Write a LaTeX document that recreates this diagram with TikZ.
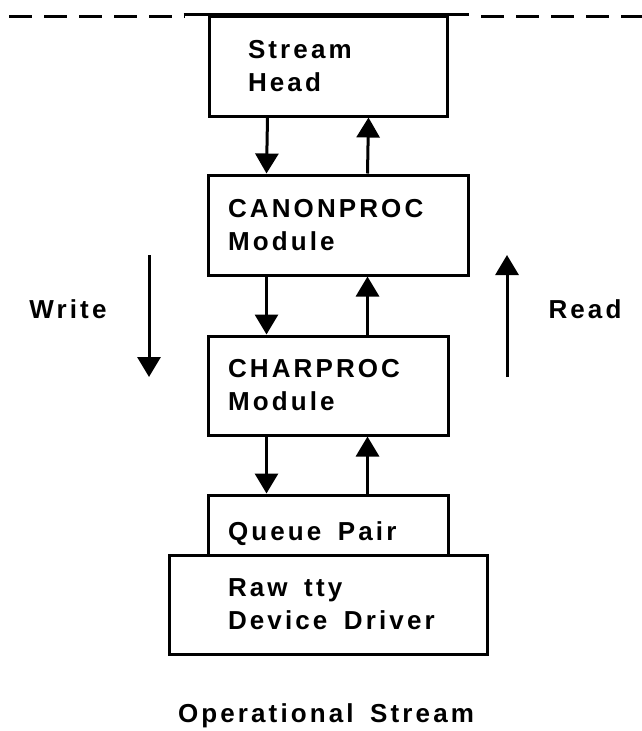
\documentclass[tikz,border=0pt]{standalone}
\usepackage{fontspec}
\usepackage{tikz}
\usetikzlibrary{arrows.meta}
\newfontfamily\diagfont{Liberation Sans Bold}[LetterSpace=12, WordSpace=1.6]
\newcommand{\labfont}{\diagfont\fontsize{26}{33}\selectfont}

\begin{document}
\begin{tikzpicture}[x=1pt,y=-1pt,
    box/.style={draw, line width=3pt, align=flush left, inner ysep=0pt, font=\labfont},
    flowarrow/.style={line width=3pt, -{Triangle[width=23pt,length=20pt]}}]
                \useasboundingbox (0,0) rectangle (642,731);

                % Dashed boundary line
                \draw[line width=3pt, dash pattern=on 23pt off 12pt] (9,16) -- (185,16);
                \draw[line width=3pt, dash pattern=on 23pt off 12pt] (481,16) -- (642,16);

                % Modules of the stream
                \node[box, minimum width=238pt, minimum height=100pt, inner xsep=39pt, text width=160pt] (head) at (328,66) {Stream\\Head};
                \node[box, minimum width=260pt, minimum height=100pt, inner xsep=20pt, text width=220pt] (canon) at (338,225) {CANONPROC\\Module};
                \node[box, minimum width=240pt, minimum height=99pt, inner xsep=20pt, text width=200pt] (charp) at (328,385.5) {CHARPROC\\Module};
                \node[box, minimum width=240pt, minimum height=60pt, inner xsep=20pt, text width=200pt, text height=30pt, text depth=0pt] (queue) at (328,525) {\mbox{Queue Pair}};
                \node[box, minimum width=318pt, minimum height=99pt, inner xsep=59pt, text width=200pt] (driver) at (328,604.5) {\mbox{Raw tty}\\\mbox{Device Driver}};

                % Solid part of the boundary over the stream head
                \draw[line width=3pt] ([xshift=-24pt]head.north west) -- ([xshift=20pt]head.north east);

                % Messages going down
                \draw[flowarrow] ([xshift=60pt]head.south west) -- ([xshift=60pt]canon.north west);
                \draw[flowarrow] ([xshift=60pt]canon.south west) -- ([xshift=60pt]charp.north west);
                \draw[flowarrow] ([xshift=60pt]charp.south west) -- ([xshift=60pt]queue.north west);

                % Messages going up
                \draw[flowarrow] ([xshift=161pt]canon.north west) -- ([xshift=161pt]head.south west);
                \draw[flowarrow] ([xshift=161pt]charp.north west) -- ([xshift=161pt]canon.south west);
                \draw[flowarrow] ([xshift=161pt]queue.north west) -- ([xshift=161pt]charp.south west);

                % Write and Read sides
                \node[font=\labfont] (write) at (68,309) {Write};
                \node[font=\labfont] (read) at (585,309) {Read};
                \coordinate (wtop) at (149,255);
                \coordinate (wbot) at (149,377);
                \coordinate (rtop) at (507,255);
                \coordinate (rbot) at (507,377);
                \draw[flowarrow] (wtop) -- (wbot);
                \draw[flowarrow] (rbot) -- (rtop);

                % Caption
                \node[font=\labfont] (caption) at (326,716) {Operational Stream};
\end{tikzpicture}
\end{document}
